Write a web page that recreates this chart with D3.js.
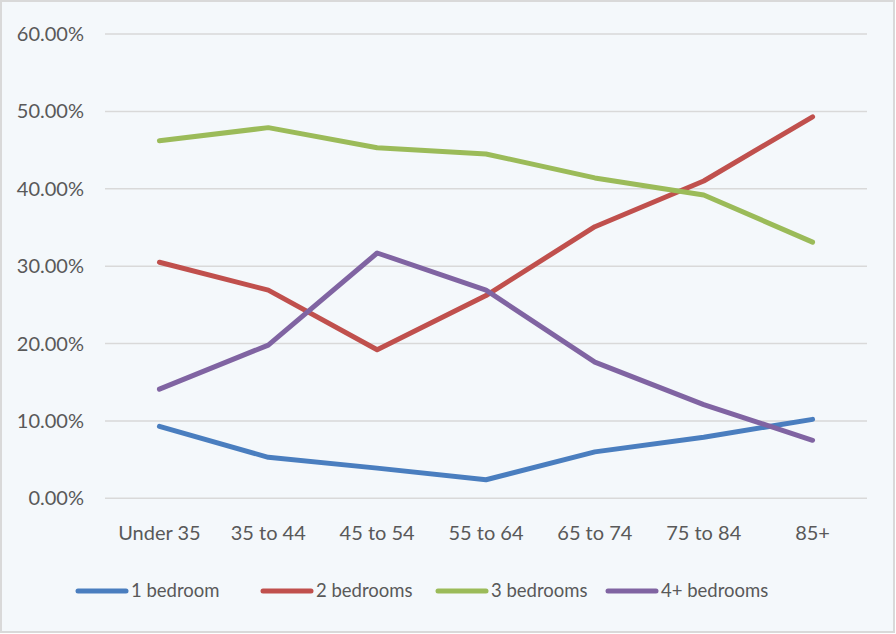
<!DOCTYPE html>
<html><head><meta charset="utf-8">
<script src="https://cdn.jsdelivr.net/npm/d3@7"></script>
<style>body{margin:0;background:#fff}svg{display:block}</style>
</head><body>
<svg id="c" width="896" height="634"></svg>
<script>
const categories = ["Under 35","35 to 44","45 to 54","55 to 64","65 to 74","75 to 84","85+"];
const seriesNames = ["1 bedroom","2 bedrooms","3 bedrooms","4+ bedrooms"];
const seriesColors = ["#4a7ebf","#c0504d","#9bbb59","#8064a2"];
const oneBedroom = [9.3,5.3,3.9,2.4,6.0,7.9,10.2];
const twoBedrooms = [30.5,26.9,19.2,26.2,35.1,41.0,49.3];
const threeBedrooms = [46.2,47.9,45.3,44.5,41.4,39.2,33.1];
const fourBedrooms = [14.1,19.8,31.7,26.9,17.6,12.1,7.5];
const yTicks = [0,10,20,30,40,50,60];
const seriesValues = [oneBedroom,twoBedrooms,threeBedrooms,fourBedrooms];

const svg = d3.select("#c");
svg.append("rect").attr("x",1).attr("y",1).attr("width",893).attr("height",631)
  .attr("fill","#f4f8fb").attr("stroke","#d9d9d9").attr("stroke-width",2);

const x = d3.scalePoint().domain(categories).range([105,867]).padding(0.5);
const y = d3.scaleLinear().domain([0,60]).range([498.3,34]);
const font = "Lato, 'Open Sans', sans-serif";

svg.append("g").selectAll("line").data(yTicks).join("line")
  .attr("x1",105).attr("x2",867).attr("y1",d=>y(d)).attr("y2",d=>y(d))
  .attr("stroke","#d9d9d9").attr("stroke-width",1.5);

svg.append("g").selectAll("text").data(yTicks).join("text")
  .attr("x",84).attr("y",d=>y(d)).attr("dy","0.35em").attr("text-anchor","end")
  .attr("font-family",font).attr("font-size",20).attr("fill","#595959")
  .text(d=>d.toFixed(2)+"%");

svg.append("g").selectAll("text").data(categories).join("text")
  .attr("x",d=>x(d)).attr("y",533).attr("dy","0.35em").attr("text-anchor","middle")
  .attr("font-family",font).attr("font-size",20).attr("fill","#595959")
  .text(d=>d);

const line = d3.line().x((d,i)=>x(categories[i])).y(d=>y(d)).curve(d3.curveLinear);
svg.append("g").selectAll("path").data(seriesValues).join("path")
  .attr("d",d=>line(d)).attr("fill","none")
  .attr("stroke",(d,i)=>seriesColors[i]).attr("stroke-width",5)
  .attr("stroke-linecap","round").attr("stroke-linejoin","round");

const legendX = [78,263,438,608];
const lg = svg.append("g").selectAll("g").data(seriesNames).join("g")
  .attr("transform",(d,i)=>`translate(${legendX[i]},591)`);
lg.append("line").attr("x1",0).attr("x2",48).attr("y1",0).attr("y2",0)
  .attr("stroke",(d,i)=>seriesColors[i]).attr("stroke-width",5).attr("stroke-linecap","round");
lg.append("text").attr("x",53).attr("y",0).attr("dy","0.35em")
  .attr("font-family",font).attr("font-size",18.5).attr("fill","#595959").text(d=>d);
</script>
</body></html>
